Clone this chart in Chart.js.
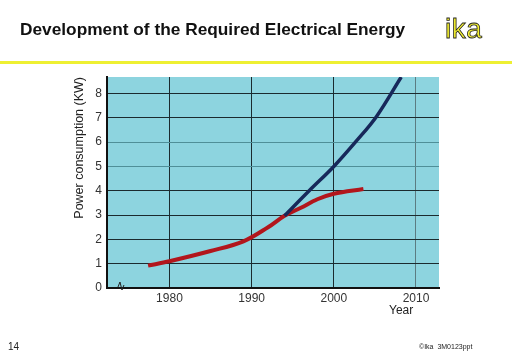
<!DOCTYPE html>
<html>
<head>
<meta charset="utf-8">
<script src="https://cdn.jsdelivr.net/npm/chart.js@4.4.1/dist/chart.umd.min.js"></script>
<style>
  body { margin: 0; background: #fff; font-family: "Liberation Sans", Arial, sans-serif; }
  #wrap { position: relative; width: 512px; height: 354px; overflow: hidden; }
  #chartCanvas { position: absolute; left: 0; top: 0; }
  .txt { position: absolute; white-space: nowrap; }
  #title { left: 20px; top: 19px; font-size: 17.3px; font-weight: bold; color: #111; }
  #logo { left: 445px; top: 13px; font-size: 28px; color: #f4f030; -webkit-text-stroke: 0.8px #222; letter-spacing: 0.5px; }
  #rule { position: absolute; left: 0; top: 61px; width: 512px; height: 3px; background: #eef032; }
  #year { left: 389px; top: 303px; font-size: 12px; color: #222; }
  #page { left: 8px; top: 341px; font-size: 10px; color: #222; }
  #src { left: 419px; top: 343px; font-size: 7px; color: #222; }
</style>
</head>
<body>
<div id="wrap">
  <canvas id="chartCanvas" width="512" height="354"></canvas>
  <div class="txt" id="title">Development of the Required Electrical Energy</div>
  <div class="txt" id="logo">ika</div>
  <div id="rule"></div>
  <div class="txt" id="year">Year</div>
  <div class="txt" id="page">14</div>
  <div class="txt" id="src">&copy;Ika &nbsp;3M0123ppt</div>
</div>
<script>
// values
var redYears   = [1977.4, 1980, 1985, 1989, 1992, 1994, 1996, 1998, 2000, 2003.6];
var redValues  = [0.92, 1.1, 1.52, 1.92, 2.5, 2.97, 3.3, 3.65, 3.88, 4.07];
var blueYears  = [1994, 1997, 2000, 2002.7, 2005.2, 2008.2];
var blueValues = [2.97, 4.0, 5.0, 6.03, 7.06, 8.68];
var xTicks = [1980, 1990, 2000, 2010];
var yTicks = [0, 1, 2, 3, 4, 5, 6, 7, 8];

function toPoints(xs, ys) {
    return xs.map(function(x, i) { return {x: x, y: ys[i]}; });
}

const bgPlugin = {
    id: 'plot_background',
    beforeDraw: (chart) => {
        const {ctx, chartArea} = chart;
        ctx.save();
        ctx.fillStyle = '#8dd4df';
        ctx.fillRect(chartArea.left, chartArea.top, chartArea.right - chartArea.left, chartArea.bottom - chartArea.top);
        ctx.restore();
    },
    afterDraw: (chart) => {
        // axis break mark near the start of the year axis
        const {ctx} = chart;
        const xs = chart.scales.x, ys = chart.scales.y;
        const bx = xs.getPixelForValue(1974.1);
        const by = ys.getPixelForValue(0);
        ctx.save();
        ctx.strokeStyle = '#222';
        ctx.lineWidth = 1;
        ctx.beginPath();
        ctx.moveTo(bx - 3, by - 1);
        ctx.lineTo(bx - 1, by - 6);
        ctx.lineTo(bx + 1, by + 2);
        ctx.lineTo(bx + 3, by - 3);
        ctx.stroke();
        ctx.restore();
    }
};

var canvas = document.getElementById("chartCanvas");
new Chart(canvas, {
    type: 'scatter',
    plugins: [bgPlugin],
    data: {
        datasets: [{
            data: toPoints(blueYears, blueValues),
            showLine: true,
            borderColor: '#17285a',
            borderWidth: 3.5,
            pointRadius: 0,
            tension: 0.35
        }, {
            data: toPoints(redYears, redValues),
            showLine: true,
            borderColor: '#b2161c',
            borderWidth: 4,
            pointRadius: 0,
            tension: 0.35
        }]
    },
    options: {
        responsive: false,
        animation: false,
        layout: { padding: { left: 72, top: 77, right: 73, bottom: 0 } },
        plugins: { legend: { display: false }, tooltip: { enabled: false } },
        scales: {
            x: {
                type: 'linear',
                min: 1972.4,
                max: 2012.8,
                afterBuildTicks: function(s) { s.ticks = xTicks.map(function(v) { return {value: v}; }); },
                afterFit: function(s) { s.height = 66; },
                grid: {
                    color: function(c) { return c.tick && c.tick.value === 2010 ? '#5b7c82' : '#1b2a2e'; },
                    lineWidth: 1,
                    drawTicks: false
                },
                border: { color: '#111', width: 2 },
                ticks: {
                    padding: 3,
                    color: '#333',
                    font: { family: 'Liberation Sans', size: 12 },
                    callback: function(v) { return String(v); }
                }
            },
            y: {
                min: 0,
                max: 8.68,
                afterBuildTicks: function(s) { s.ticks = yTicks.map(function(v) { return {value: v}; }); },
                afterFit: function(s) { s.width = 35; },
                grid: {
                    color: function(c) {
                        var v = c.tick ? c.tick.value : 0;
                        return (v === 5 || v === 6) ? '#4f8f98' : '#1b2a2e';
                    },
                    lineWidth: 1,
                    drawTicks: false
                },
                border: { color: '#111', width: 2 },
                title: {
                    display: true,
                    text: 'Power consumption (KW)',
                    align: 'end',
                    padding: 0,
                    color: '#222',
                    font: { family: 'Liberation Sans', size: 12.5 }
                },
                ticks: {
                    padding: 5,
                    color: '#333',
                    font: { family: 'Liberation Sans', size: 12 }
                }
            }
        }
    }
});
</script>
</body>
</html>
